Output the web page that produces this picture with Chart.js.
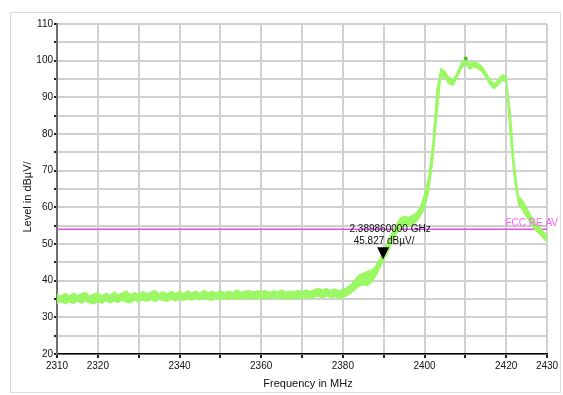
<!DOCTYPE html>
<html>
<head>
<meta charset="utf-8">
<title>Level vs Frequency</title>
<script src="https://cdn.jsdelivr.net/npm/chart.js@4.4.0/dist/chart.umd.min.js"></script>
<style>
  html, body { margin: 0; padding: 0; background: #fff; }
  #wrap { position: relative; width: 563px; height: 395px; }
  #frame { position: absolute; left: 10px; top: 12px; width: 551px; height: 381px;
           border: 1px solid #dcdcdc; box-sizing: border-box; }
  #chart { position: absolute; left: 0; top: 0; }
</style>
</head>
<body>
<div id="wrap">
  <div id="frame"></div>
  <canvas id="chart" width="563" height="395"></canvas>
</div>
<script>
// Frequency points in MHz
const freqs = [
  2310, 2311, 2312, 2313, 2314, 2315, 2316, 2317, 2318, 2319,
  2320, 2321, 2322, 2323, 2324, 2325, 2326, 2327, 2328, 2329,
  2330, 2331, 2332, 2333, 2334, 2335, 2336, 2337, 2338, 2339,
  2340, 2341, 2342, 2343, 2344, 2345, 2346, 2347, 2348, 2349,
  2350, 2351, 2352, 2353, 2354, 2355, 2356, 2357, 2358, 2359,
  2360, 2361, 2362, 2363, 2364, 2365, 2366, 2367, 2368, 2369,
  2370, 2371, 2372, 2373, 2374, 2375, 2376, 2377, 2378, 2379,
  2380, 2381, 2382, 2383, 2384, 2385, 2386, 2387, 2388, 2389,
  2390, 2391, 2392, 2393, 2394, 2395, 2396, 2397, 2398, 2399,
  2400, 2401, 2402, 2403, 2404, 2405, 2406, 2407, 2408, 2409,
  2410, 2411, 2412, 2413, 2414, 2415, 2416, 2417, 2418, 2419,
  2420, 2421, 2422, 2423, 2424, 2425, 2426, 2427, 2428, 2429,
  2430
];

// Upper edge of the measured trace (dBµV)
const levelMax = [
  36.4, 35.8, 36.6, 35.9, 36.7, 36.0, 36.5, 36.9, 35.9, 36.4,
  36.8, 35.9, 36.6, 36.1, 37.0, 36.2, 36.7, 37.3, 36.2, 36.8,
  36.3, 37.1, 36.4, 36.9, 37.4, 36.5, 37.0, 36.4, 37.2, 36.6,
  37.1, 36.5, 37.3, 36.7, 37.2, 36.6, 37.5, 36.8, 37.1, 36.7,
  37.3, 36.8, 37.2, 36.8, 37.5, 36.9, 37.1, 37.4, 36.9, 37.3,
  37.0, 37.4, 36.9, 37.3, 37.0, 37.5, 36.9, 37.2, 37.0, 37.4,
  37.0, 37.5, 37.1, 37.6, 38.0, 37.5, 37.9, 37.4, 37.8, 37.3,
  37.6, 38.2, 39.0, 40.4, 41.6, 42.1, 42.6, 42.9, 44.0, 46.0,
  48.2, 50.6, 53.0, 55.0, 57.1, 57.6, 57.3, 57.8, 58.6, 60.2,
  63.6, 68.2, 77.5, 92.0, 98.0, 97.2, 95.5, 94.9, 96.8, 99.4,
  100.7, 99.2, 99.8, 99.4, 98.6, 97.0, 95.0, 93.8, 94.8, 96.2,
  95.8, 86.5, 72.0, 63.2, 62.0, 60.0, 58.0, 56.0, 55.0, 53.6,
  52.6
];

// Lower edge of the measured trace (dBµV)
const levelMin = [
  33.7, 34.3, 33.6, 34.2, 33.7, 34.4, 33.8, 34.3, 33.9, 33.6,
  34.2, 33.8, 34.5, 33.9, 34.4, 34.0, 34.6, 34.1, 33.9, 34.6,
  34.2, 34.7, 34.3, 34.8, 34.2, 34.9, 34.5, 34.3, 34.9, 34.4,
  34.9, 34.5, 35.1, 34.6, 35.0, 34.7, 35.2, 34.8, 34.6, 35.1,
  34.8, 35.2, 34.7, 35.3, 34.9, 34.8, 35.3, 34.9, 35.2, 34.8,
  35.3, 34.9, 35.2, 35.4, 34.9, 35.3, 35.0, 34.8, 35.3, 34.9,
  35.2, 35.4, 34.9, 35.5, 35.7, 35.2, 35.8, 35.3, 35.6, 35.1,
  35.4, 35.9, 36.6, 37.5, 38.4, 38.8, 38.6, 39.4, 41.0, 43.2,
  45.6, 47.6, 50.2, 52.6, 54.2, 55.0, 54.8, 55.2, 56.0, 57.6,
  59.6, 64.0, 72.0, 84.0, 95.6, 95.2, 93.6, 93.2, 95.2, 97.6,
  99.2, 97.6, 98.2, 97.8, 97.0, 95.4, 93.4, 92.2, 93.2, 94.6,
  94.2, 79.0, 67.5, 60.6, 59.2, 57.2, 55.6, 53.8, 52.8, 51.6,
  50.4
];

// FCC limit line
const limitFreqs = [2310, 2430];
const limitLevels = [54, 54];
const limitName = "FCC RE AV";

// Marker
const markerFreq = 2389.86;
const markerLevel = 45.827;
const markerLines = ["2.389860000 GHz", "45.827 dBµV/"];

// Peak dot
const peakFreq = [2410.1];
const peakLevel = [100.6];

// Labelled ticks
const xTickLabels = [2310, 2320, 2340, 2360, 2380, 2400, 2420, 2430];
const yTickLabels = [20, 30, 40, 50, 60, 70, 80, 90, 100, 110];

const xTitle = "Frequency in MHz";
const yTitle = "Level in dBµV/";

const FONT = "'Liberation Sans', Arial, sans-serif";
const TRACE = "#9cf764";

const toPoints = (xs, ys) => xs.map((x, i) => ({ x: x, y: ys[i] }));

// Plugin drawing marker, limit name and axis titles
const annotations = {
  id: "annotations",
  afterDatasetsDraw(chart) {
    const { ctx, chartArea, scales } = chart;
    const mx = scales.x.getPixelForValue(markerFreq);
    const my = scales.y.getPixelForValue(markerLevel);
    ctx.save();
    // triangle pointing down at the marker
    ctx.fillStyle = "#000";
    ctx.beginPath();
    ctx.moveTo(mx, my);
    ctx.lineTo(mx - 6, my - 12);
    ctx.lineTo(mx + 6, my - 12);
    ctx.closePath();
    ctx.fill();
    ctx.font = "10px " + FONT;
    ctx.textAlign = "center";
    ctx.textBaseline = "middle";
    ctx.fillStyle = "#111";
    ctx.fillText(markerLines[0], mx + 7, my - 30);
    ctx.fillText(markerLines[1], mx + 1, my - 18);

    // limit name
    const ly = scales.y.getPixelForValue(limitLevels[1]);
    ctx.fillStyle = "#ff5cff";
    ctx.textAlign = "right";
    ctx.fillText(limitName, chartArea.right + 11, ly - 6);

    // axis titles
    ctx.fillStyle = "#111";
    ctx.font = "11px " + FONT;
    ctx.textAlign = "center";
    ctx.fillText(xTitle, 308, 384);
    ctx.translate(28, 197);
    ctx.rotate(-Math.PI / 2);
    ctx.fillText(yTitle, 0, 0);
    ctx.restore();
  }
};

new Chart(document.getElementById("chart"), {
  type: "line",
  data: {
    datasets: [
      {
        data: toPoints(freqs, levelMax),
        borderColor: TRACE,
        borderWidth: 1,
        pointRadius: 0,
        fill: false,
        order: 1
      },
      {
        data: toPoints(freqs, levelMin),
        borderColor: TRACE,
        backgroundColor: TRACE,
        borderWidth: 1,
        pointRadius: 0,
        fill: "-1",
        order: 1
      },
      {
        data: toPoints(limitFreqs, limitLevels),
        borderColor: "#e650e6",
        borderWidth: 1.5,
        pointRadius: 0,
        fill: false,
        order: 2
      },
      {
        data: toPoints(peakFreq, peakLevel),
        showLine: false,
        pointRadius: 2,
        pointBackgroundColor: "#55b83a",
        pointBorderWidth: 0,
        order: 0
      }
    ]
  },
  options: {
    responsive: false,
    animation: false,
    layout: { padding: { left: 0, right: 16, top: 24, bottom: 0 } },
    plugins: {
      legend: { display: false },
      tooltip: { enabled: false }
    },
    scales: {
      x: {
        type: "linear",
        min: 2310,
        max: 2430,
        afterFit: (s) => { s.height = 41; },
        border: { color: "#000", width: 1.5 },
        grid: { color: "#d0d0d0", lineWidth: 2, tickColor: "#222", tickLength: 4 },
        ticks: {
          stepSize: 10,
          autoSkip: false,
          maxRotation: 0,
          padding: 2,
          color: "#111",
          font: { family: FONT, size: 10 },
          callback: (v) => (xTickLabels.includes(v) ? String(v) : "")
        }
      },
      y: {
        min: 20,
        max: 110,
        afterFit: (s) => { s.width = 57; },
        border: { color: "#6e6e6e", width: 2 },
        grid: { color: "#d0d0d0", lineWidth: 2, tickColor: "#222", tickLength: 3 },
        ticks: {
          stepSize: 5,
          autoSkip: false,
          padding: 1,
          color: "#111",
          font: { family: FONT, size: 10 },
          callback: (v) => (yTickLabels.includes(v) ? String(v) : "")
        }
      }
    }
  },
  plugins: [annotations]
});
</script>
</body>
</html>
